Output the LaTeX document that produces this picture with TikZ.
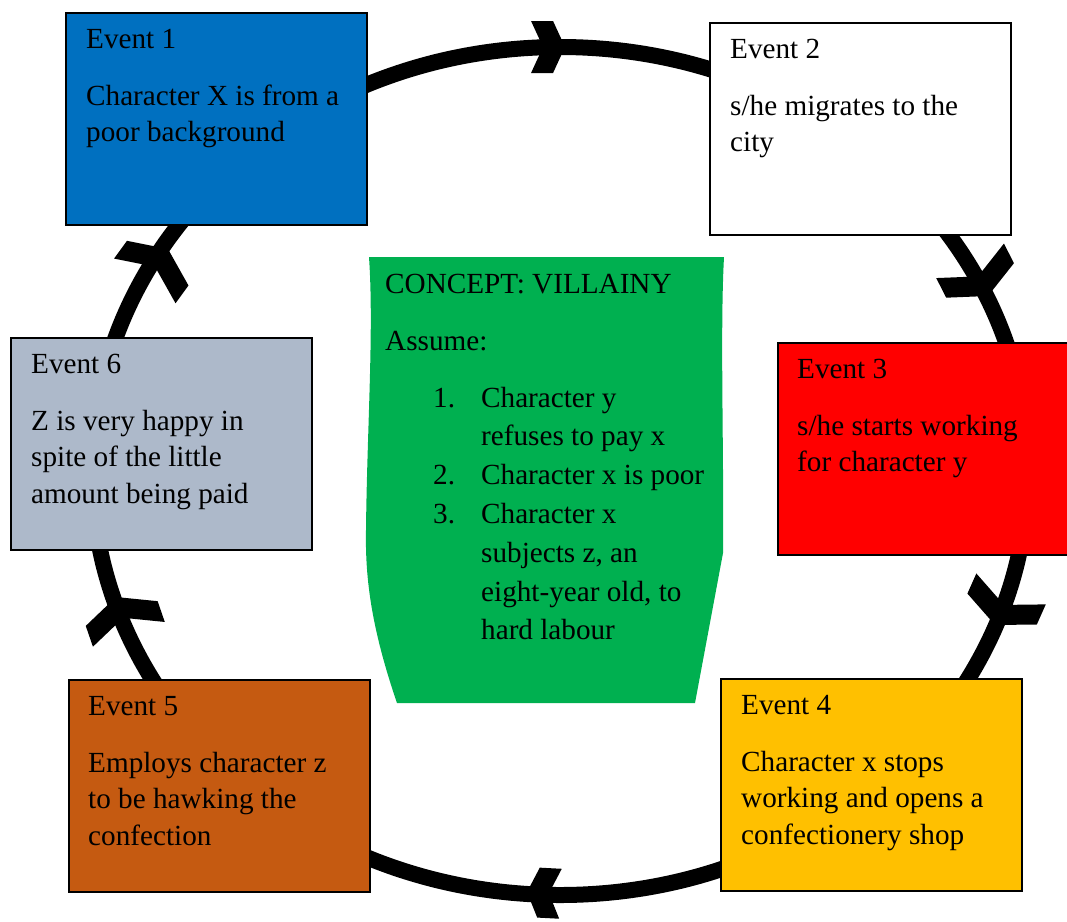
\documentclass[tikz,border=0pt]{standalone}
\usepackage{fontspec}
\setmainfont{Liberation Serif}

\definecolor{evblue}{HTML}{0070C0}
\definecolor{evred}{HTML}{FF0000}
\definecolor{evgold}{HTML}{FFC000}
\definecolor{evbrown}{HTML}{C55A11}
\definecolor{evgrey}{HTML}{ADB9CA}
\definecolor{conceptgreen}{HTML}{00B050}

\newcommand{\evfont}{\fontsize{29.2}{36.5}\selectfont}
\newcommand{\listfont}{\fontsize{29.2}{38.8}\selectfont}
\newcommand{\evlines}[1]{\begin{tabular}[t]{@{}l@{}}#1\end{tabular}}

\tikzset{
  evbox/.style={draw=black, line width=2pt, rectangle, inner sep=0pt, anchor=north west,
    minimum width=301pt, minimum height=212pt},
  evtext/.style={anchor=base west, inner sep=0pt, font=\evfont},
  cyclering/.style={line width=16pt},
  pics/chevron/.style={code={
    \fill (-0.46*#1-22,-#1) -- (-0.46*#1,-#1) -- (0,0) -- (-0.46*#1,#1)
      -- (-0.46*#1-22,#1) -- (-22,0) -- cycle;}}
}

\begin{document}
\begin{tikzpicture}[x=1pt,y=-1pt]
    \useasboundingbox (0,0) rectangle (1067,921);
    \clip (0,0) rectangle (1067,921);

    % the cycle
    \draw[cyclering] (560,471) ellipse [x radius=468, y radius=424];
    \pic[rotate=0] at (565,47) {chevron=26};
    \pic[rotate=-63] at (988,296) {chevron=38};
    \pic[rotate=-114] at (995,625) {chevron=38};
    \pic[rotate=177] at (527,892) {chevron=25};
    \pic[rotate=109] at (116,597) {chevron=38};
    \pic[rotate=54] at (168,249) {chevron=38};

    % events
    \node[evbox, fill=evblue] (e1) at (65,12) {};
    \node[evbox, fill=white] (e2) at (709,22) {};
    \node[evbox, fill=evred] (e3) at (777,342) {};
    \node[evbox, fill=evgold] (e4) at (720,678) {};
    \node[evbox, fill=evbrown] (e5) at (68,679) {};
    \node[evbox, fill=evgrey] (e6) at (10,337) {};

    \node[evtext] (t1) at ([shift={(21,36)}]e1.north west)
        {\evlines{Event 1\\[20.5pt]Character X is from a\\poor background}};
    \node[evtext] (t2) at ([shift={(21,36)}]e2.north west)
        {\evlines{Event 2\\[20.5pt]s/he migrates to the\\city}};
    \node[evtext] (t3) at ([shift={(20,36)}]e3.north west)
        {\evlines{Event 3\\[20.5pt]s/he starts working\\for character y}};
    \node[evtext] (t4) at ([shift={(21,36)}]e4.north west)
        {\evlines{Event 4\\[20.5pt]Character x stops\\working and opens a\\confectionery shop}};
    \node[evtext] (t5) at ([shift={(20,36)}]e5.north west)
        {\evlines{Event 5\\[20.5pt]Employs character z\\to be hawking the\\confection}};
    \node[evtext] (t6) at ([shift={(21,36)}]e6.north west)
        {\evlines{Event 6\\[20.5pt]Z is very happy in\\spite of the little\\amount being paid}};

    % concept in the middle
    \fill[conceptgreen] (369,257) -- (724,257) .. controls (720,330) and (724,450) .. (723,553)
        -- (695,703) -- (397,703) .. controls (372,630) and (365,580) .. (366,530)
        .. controls (367,430) and (374,330) .. (369,257) -- cycle;
    \node[evtext] (concept) at (385,293) {\evlines{CONCEPT: VILLAINY\\[20.5pt]Assume:}};
    \node[evtext, font=\listfont] (assume) at (433,407)
        {\begin{tabular}[t]{@{}p{48pt}@{}l@{}}
        1. & Character y\\
           & refuses to pay x\\
        2. & Character x is poor\\
        3. & Character x\\
           & subjects z, an\\
           & eight-year old, to\\
           & hard labour
        \end{tabular}};
\end{tikzpicture}
\end{document}
